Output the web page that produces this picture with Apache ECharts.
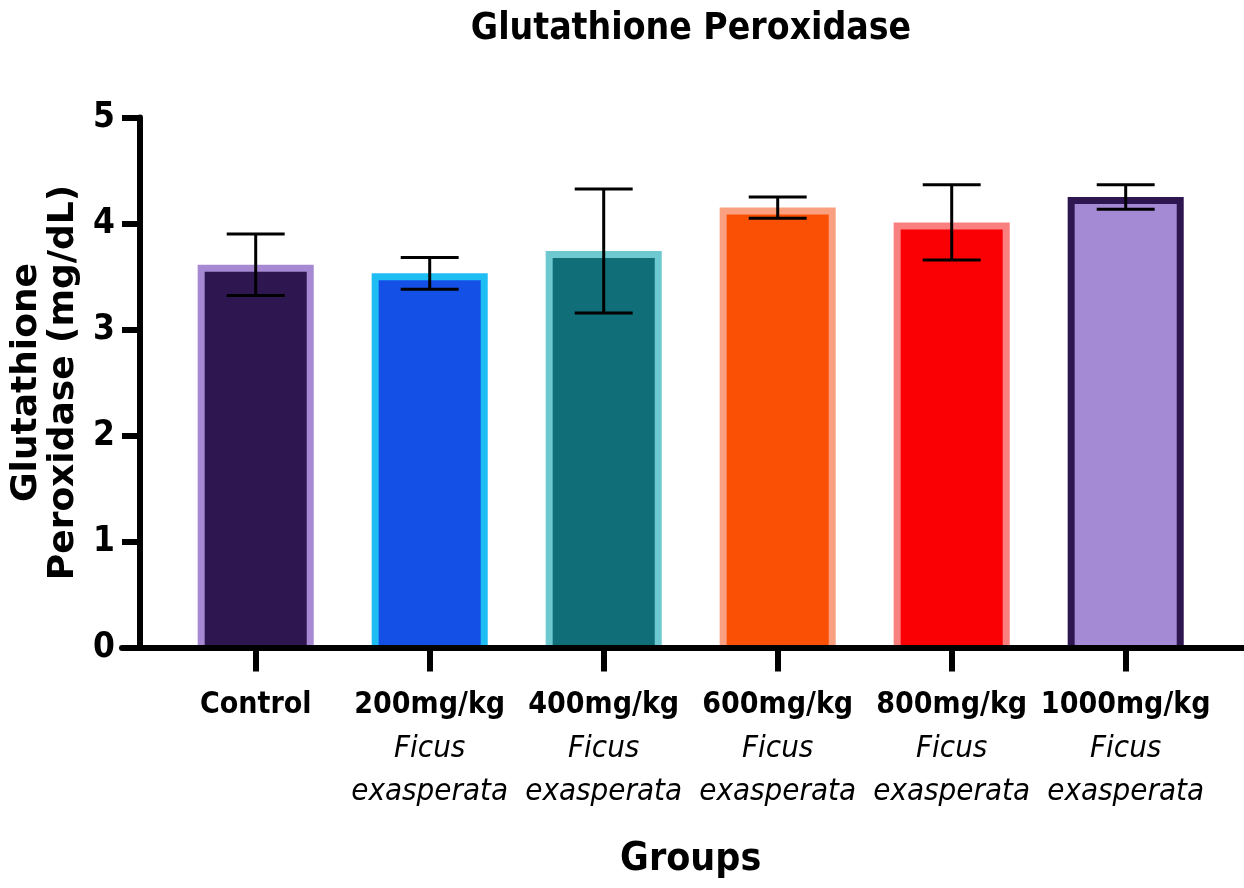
<!DOCTYPE html>
<html>
<head>
<meta charset="utf-8">
<title>Glutathione Peroxidase</title>
<script src="https://cdn.jsdelivr.net/npm/echarts@6/dist/echarts.min.js"></script>
<style>
  html, body { margin: 0; padding: 0; background: #ffffff; }
  #chart { width: 1244px; height: 888px; }
</style>
</head>
<body>
<div id="chart"></div>
<script>
// Groups on the x axis (dose line, then the plant name in italics)
const groups = ['Control', '200mg/kg', '400mg/kg', '600mg/kg', '800mg/kg', '1000mg/kg'];
const plantName = ['', 'Ficus exasperata', 'Ficus exasperata', 'Ficus exasperata', 'Ficus exasperata', 'Ficus exasperata'];

// Mean GPx activity (mg/dL) and error bar half-lengths
const means = [3.61, 3.53, 3.74, 4.15, 4.01, 4.25];
const errors = [0.29, 0.15, 0.585, 0.10, 0.355, 0.115];

// Bar fill and bar outline colours per group
const fillColors = ['#2e1650', '#1450e6', '#0f6e78', '#fa5005', '#fa0005', '#a48ad4'];
const edgeColors = ['#a689d2', '#1ebef5', '#6ec8d0', '#faa080', '#fa8080', '#2e1650'];

// Y axis ticks
const yMin = 0, yMax = 5, yStep = 1;

const narrow = "'DejaVu Sans Condensed', 'Liberation Sans Narrow', 'Arial Narrow', sans-serif";
const wide = "'DejaVu Sans', Verdana, sans-serif";

const BAR_FRAC = 0.667;
const EDGE = 7;
const CAP_FRAC = 0.333;

function renderBar(params, api) {
  const i = api.value(0);
  const v = api.value(1);
  const top = api.coord([i, v]);
  const base = api.coord([i, 0]);
  const bw = api.size([1, 0])[0] * BAR_FRAC;
  const x0 = top[0] - bw / 2;
  const h = base[1] - top[1];
  return {
    type: 'group',
    children: [
      { type: 'rect', shape: { x: x0, y: top[1], width: bw, height: h }, style: { fill: edgeColors[i] } },
      { type: 'rect', shape: { x: x0 + EDGE, y: top[1] + EDGE, width: bw - 2 * EDGE, height: h - EDGE }, style: { fill: fillColors[i] } }
    ]
  };
}

function renderError(params, api) {
  const i = api.value(0);
  const m = api.value(1);
  const e = api.value(2);
  const hi = api.coord([i, m + e]);
  const lo = api.coord([i, m - e]);
  const half = api.size([1, 0])[0] * CAP_FRAC / 2;
  const st = { stroke: '#000', lineWidth: 3 };
  return {
    type: 'group',
    children: [
      { type: 'line', shape: { x1: hi[0], y1: hi[1], x2: lo[0], y2: lo[1] }, style: st },
      { type: 'line', shape: { x1: hi[0] - half, y1: hi[1], x2: hi[0] + half, y2: hi[1] }, style: st },
      { type: 'line', shape: { x1: lo[0] - half, y1: lo[1], x2: lo[0] + half, y2: lo[1] }, style: st }
    ]
  };
}

const chart = echarts.init(document.getElementById('chart'), null, { renderer: 'canvas' });

chart.setOption({
  backgroundColor: '#ffffff',
  animation: false,
  title: {
    text: 'Glutathione Peroxidase',
    left: 691,
    textAlign: 'center',
    top: 11,
    padding: 0,
    textStyle: { fontFamily: narrow, fontWeight: 'bold', fontSize: 37, color: '#000' }
  },
  grid: [
    { left: 168.7, right: 31.3, top: 117.5, bottom: 240.5 },
    { left: 122, right: 0, top: 117.5, bottom: 240.5 }
  ],
  xAxis: [
    {
      type: 'category',
      gridIndex: 0,
      data: groups,
      z: 10,
      axisLine: { show: true, lineStyle: { color: '#000', width: 6 } },
      axisTick: { show: true, alignWithLabel: true, length: 24, lineStyle: { color: '#000', width: 6 } },
      axisLabel: {
        margin: 36,
        interval: 0,
        formatter: function (value, idx) {
          const name = plantName[idx];
          if (!name) return '{dose|' + value + '}';
          const parts = name.split(' ');
          return '{dose|' + value + '}\n{sp|' + parts[0] + '}\n{sp|' + parts[1] + '}';
        },
        rich: {
          dose: { fontFamily: narrow, fontWeight: 'bold', fontSize: 30, lineHeight: 43.5, color: '#000' },
          sp: { fontFamily: narrow, fontStyle: 'italic', fontWeight: 'normal', fontSize: 31, lineHeight: 43.5, color: '#000' }
        }
      },
      name: 'Groups',
      nameLocation: 'middle',
      nameGap: 193,
      nameTextStyle: { fontFamily: narrow, fontWeight: 'bold', fontSize: 39, color: '#000' }
    },
    {
      type: 'value',
      gridIndex: 1,
      min: 0,
      max: 1,
      z: 10,
      axisLine: { show: true, lineStyle: { color: '#000', width: 6 } },
      axisTick: { show: false },
      axisLabel: { show: false },
      splitLine: { show: false }
    }
  ],
  yAxis: [
    {
      type: 'value',
      gridIndex: 0,
      min: yMin,
      max: yMax,
      interval: yStep,
      offset: 28.7,
      z: 10,
      axisLine: { show: true, lineStyle: { color: '#000', width: 6 } },
      axisTick: { show: true, length: 18, lineStyle: { color: '#000', width: 6 } },
      axisLabel: { margin: 25, fontFamily: narrow, fontWeight: 'bold', fontSize: 35, color: '#000' },
      splitLine: { show: false },
      name: 'Glutathione\nPeroxidase (mg/dL)',
      nameLocation: 'middle',
      nameGap: 47,
      nameTextStyle: { fontFamily: wide, fontWeight: 'bold', fontSize: 36, lineHeight: 37, color: '#000', align: 'center' }
    },
    {
      type: 'value',
      gridIndex: 1,
      show: false,
      min: 0,
      max: 1
    }
  ],
  series: [
    {
      type: 'custom',
      name: 'means',
      xAxisIndex: 0,
      yAxisIndex: 0,
      z: 2,
      renderItem: renderBar,
      data: means.map((m, i) => [i, m])
    },
    {
      type: 'custom',
      name: 'error',
      xAxisIndex: 0,
      yAxisIndex: 0,
      z: 5,
      renderItem: renderError,
      data: means.map((m, i) => [i, m, errors[i]])
    }
  ]
});
</script>
</body>
</html>
